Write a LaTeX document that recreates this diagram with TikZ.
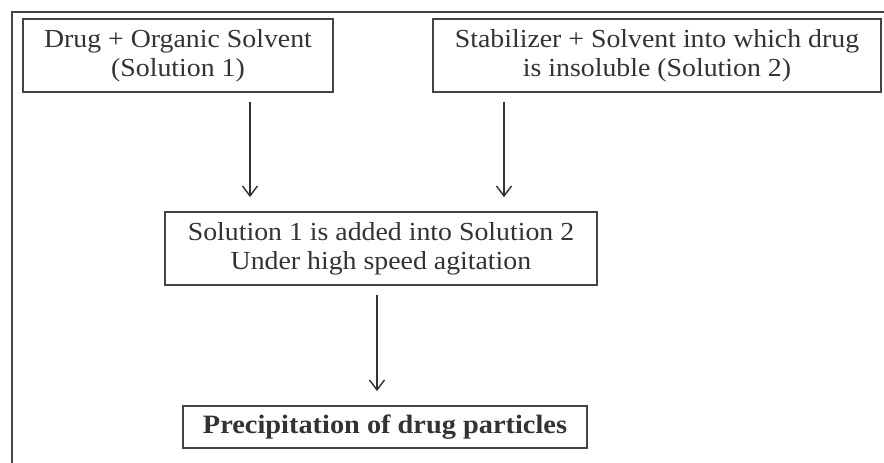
\documentclass[tikz,border=0pt]{standalone}
\usepackage{fontspec}
\setmainfont{Liberation Serif}[FakeStretch=1.07]
\usetikzlibrary{arrows.meta}
\definecolor{ink}{HTML}{333333}
\definecolor{frame}{HTML}{444444}
\tikzset{
  procbox/.style={draw=frame, line width=1.8pt, fill=white, inner sep=0pt,
    align=center, text=ink, font=\fontsize{26}{29}\selectfont},
  arr/.style={draw=ink, line width=1.4pt, -{Straight Barb[length=10pt,width=15pt,line width=1.4pt]}},
  edge/.style={draw=frame, line width=1.6pt}
}
\begin{document}
\begin{tikzpicture}[x=1pt,y=-1pt]
\useasboundingbox[fill=white] (0,0) rectangle (884,463);
\coordinate (fa) at (12,463);
\coordinate (fb) at (12,12);
\coordinate (fc) at (884,12);
\draw[edge] (fa) -- (fb) -- (fc);
\node[procbox, minimum width=310pt, minimum height=73pt] (b1) at (178,55.5)
  {Drug + Organic Solvent\\(Solution 1)};
\node[procbox, minimum width=448pt, minimum height=73pt] (b2) at (657,55.5)
  {Stabilizer + Solvent into which drug\\is insoluble (Solution 2)};
\node[procbox, minimum width=432pt, minimum height=73pt] (b3) at (381,248.5)
  {Solution 1 is added into Solution 2\\Under high speed agitation};
\node[procbox, minimum width=404pt, minimum height=42pt, font=\fontsize{26.5}{29}\selectfont\bfseries] (b4) at (385,427)
  {Precipitation of drug particles};
\coordinate (x1) at (250,0);
\coordinate (x2) at (504,0);
\coordinate (x3) at (377,0);
\draw[arr, shorten <=9pt, shorten >=14pt] (b1.south -| x1) -- (b3.north -| x1);
\draw[arr, shorten <=9pt, shorten >=14pt] (b2.south -| x2) -- (b3.north -| x2);
\draw[arr, shorten <=9pt, shorten >=14pt] (b3.south -| x3) -- (b4.north -| x3);
\end{tikzpicture}
\end{document}
